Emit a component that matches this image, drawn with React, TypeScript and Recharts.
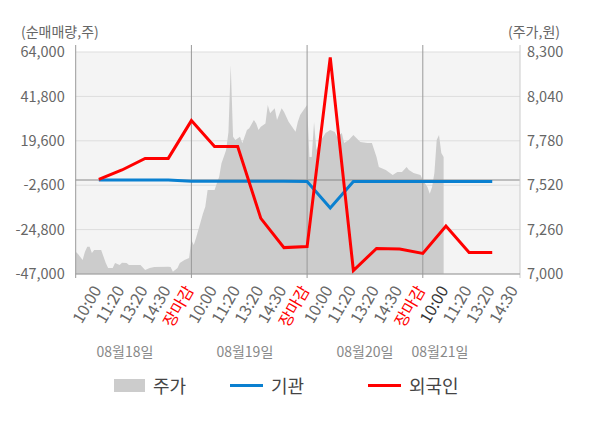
import { ComposedChart, Area, Line, XAxis, YAxis, CartesianGrid, ReferenceLine } from "recharts";

const FONT = '"Noto Sans CJK KR", "Noto Sans", sans-serif';

// x runs in "ticks": 10 per time slot, 5 slots (50 ticks) per trading day
const slotNames = ["10:00", "11:20", "13:20", "14:30", "장마감"];
const slotTicks = Array.from({ length: 19 }, (_, i) => (i + 1) * 10);

const dayLabels = ["08월18일", "08월19일", "08월20일", "08월21일"];
const dayLabelTicks = [21.3, 73.1, 125, 157.4];

// net buying (shares) per slot, from 10:00 on 08/18 to 13:20 on 08/21
const instNet = [0, 0, 0, 0, -600, -600, -600, -600, -600, -700, -14000, -700, -700, -700, -700, -700, -700, -700];
const foreignNet = [300, 5000, 10800, 10800, 29700, 16700, 16700, -19200, -33800, -33300, 61300, -45300, -34200, -34500, -36700, -23000, -36300, -36200];

// intraday price, [tick, won]
const price18 = [
  [0, 7131], [1, 7117], [3, 7082], [4, 7131], [5, 7160], [6, 7160], [7, 7123], [8, 7141], [11, 7141],
  [13, 7064], [14, 7035], [16, 7035], [17, 7064], [19, 7053], [20, 7066], [22, 7064], [23, 7053],
  [28, 7053], [30, 7023], [32, 7035], [34, 7041], [40, 7043], [41, 7041], [42, 7013], [44, 7035],
  [45, 7064], [47, 7082], [49, 7094],
];
const price19 = [
  [50, 7199], [51, 7170], [52, 7211], [54, 7306], [55, 7355], [56, 7394], [57, 7492], [60, 7492],
  [61, 7531], [62, 7570], [63, 7648], [64, 7687], [65, 7726], [66, 7830], [67, 8224], [68, 7804],
  [69, 7785], [71, 7804], [72, 7765], [74, 7843], [75, 7853], [77, 7902], [78, 7882], [79, 7843],
  [80, 7863], [82, 7882], [83, 7990], [84, 7941], [86, 7970], [87, 7902], [89, 7970], [90, 7950],
  [92, 7892], [95, 7833], [96, 7892], [97, 7931], [99, 7970],
];
const price20 = [
  [100, 7990], [101, 7685], [102, 7685], [103, 7890], [104, 7726], [106, 7785], [108, 7826],
  [110, 7843], [112, 7832], [113, 7802], [115, 7826], [116, 7767], [118, 7785], [120, 7814],
  [123, 7773], [126, 7767], [128, 7767], [130, 7685], [131, 7627], [134, 7609], [137, 7580],
  [139, 7597], [141, 7597], [143, 7627], [144, 7609], [146, 7591], [149, 7580],
];
const price21 = [
  [150, 7550], [152, 7509], [153, 7470], [154, 7509], [155, 7591], [156, 7785], [157, 7814],
  [158, 7709], [159, 7685],
];

const leftTicks = [-47000, -24800, -2600, 19600, 41800, 64000];
const rightTicks = [7000, 7260, 7520, 7780, 8040, 8300];

const priceData = [...price18, ...price19, ...price20, ...price21].map(([t, price]) => ({ t, price }));
const flowData = instNet.map((v, i) => ({ t: (i + 1) * 10, inst: v, foreign: foreignNet[i] }));

const fmt = (v: number) => v.toLocaleString("en-US");

function SlotTick({ x, y, payload }: any) {
  const idx = Math.round(payload.value / 10) - 1;
  const name = slotNames[idx % 5];
  const isClose = name === "장마감";
  const isToday = idx === 15;
  const ax = x + 3;
  const ay = y + 8;
  return (
    <text
      x={ax}
      y={ay}
      transform={`rotate(-60, ${ax}, ${ay})`}
      textAnchor="end"
      fontSize={16}
      fontFamily={FONT}
      fill={isClose ? "#ff0000" : isToday ? "#333" : "#666"}
    >
      {name}
    </text>
  );
}

function DayTick({ x, y, index }: any) {
  return (
    <text x={x} y={y + 15} textAnchor="middle" fontSize={14} fontFamily={FONT} fill="#888">
      {dayLabels[index] ?? ""}
    </text>
  );
}

function LegendItem({ left, swatch, label }: { left: number; swatch: any; label: string }) {
  return (
    <div style={{ position: "absolute", left, top: 373, height: 24, display: "flex", alignItems: "center" }}>
      {swatch}
      <span style={{ marginLeft: 8, fontSize: 18, color: "#444", fontFamily: FONT }}>{label}</span>
    </div>
  );
}

export default function App() {
  const sep = (t: number, color = "#999") => (
    <ReferenceLine
      key={t}
      yAxisId="left"
      ifOverflow="visible"
      stroke={color}
      segment={[{ x: t, y: -49000 }, { x: t, y: 67500 }]}
    />
  );
  return (
    <div style={{ position: "absolute", left: 0, top: 0, width: 600, height: 428, background: "#fff", fontFamily: FONT }}>
      <div style={{ position: "absolute", left: 21, top: 21, fontSize: 14, color: "#666" }}>(순매매량,주)</div>
      <div style={{ position: "absolute", left: 508, top: 21, fontSize: 14, color: "#666" }}>(주가,원)</div>
      <ComposedChart width={600} height={428} margin={{ top: 52, right: 20, left: 15.7, bottom: 64 }}>
        <CartesianGrid yAxisId="left" vertical={false} stroke="#ddd" fill="#f4f4f4" fillOpacity={1} />
        <XAxis
          dataKey="t"
          type="number"
          domain={[0, 192]}
          allowDataOverflow
          ticks={slotTicks}
          interval={0}
          height={60}
          axisLine={{ stroke: "#999" }}
          tickLine={false}
          tick={<SlotTick />}
        />
        <XAxis
          xAxisId="date"
          dataKey="t"
          type="number"
          domain={[0, 192]}
          allowDataOverflow
          ticks={dayLabelTicks}
          interval={0}
          height={30}
          axisLine={false}
          tickLine={false}
          tick={<DayTick />}
        />
        <YAxis
          yAxisId="left"
          domain={[-47000, 64000]}
          ticks={leftTicks}
          allowDataOverflow
          width={60}
          axisLine={false}
          tickLine={false}
          tickMargin={5}
          tickFormatter={fmt}
          tick={{ fill: "#666", fontSize: 14.5, fontFamily: FONT }}
        />
        <YAxis
          yAxisId="right"
          orientation="right"
          domain={[7000, 8300]}
          ticks={rightTicks}
          allowDataOverflow
          width={60}
          axisLine={false}
          tickLine={false}
          tickMargin={1}
          tickFormatter={fmt}
          tick={{ fill: "#666", fontSize: 14.5, fontFamily: FONT, textAnchor: "start" }}
        />
        <Area
          yAxisId="right"
          data={priceData}
          dataKey="price"
          type="linear"
          stroke="none"
          fill="#cccccc"
          fillOpacity={1}
          isAnimationActive={false}
        />
        <ReferenceLine yAxisId="left" y={0} stroke="#888" />
        {[0, 50, 100, 150].map((t) => sep(t))}
        {sep(192, "#ccc")}
        <Line
          yAxisId="left"
          data={flowData}
          dataKey="inst"
          type="linear"
          stroke="#0a80d0"
          strokeWidth={3}
          dot={false}
          isAnimationActive={false}
        />
        <Line
          yAxisId="left"
          data={flowData}
          dataKey="foreign"
          type="linear"
          stroke="#ff0000"
          strokeWidth={3}
          dot={false}
          isAnimationActive={false}
        />
      </ComposedChart>
      <LegendItem left={114} label="주가" swatch={<div style={{ width: 31, height: 13, background: "#cccccc" }} />} />
      <LegendItem left={230} label="기관" swatch={<div style={{ width: 33, height: 3, background: "#0a80d0" }} />} />
      <LegendItem left={368} label="외국인" swatch={<div style={{ width: 33, height: 3, background: "#ff0000" }} />} />
    </div>
  );
}
